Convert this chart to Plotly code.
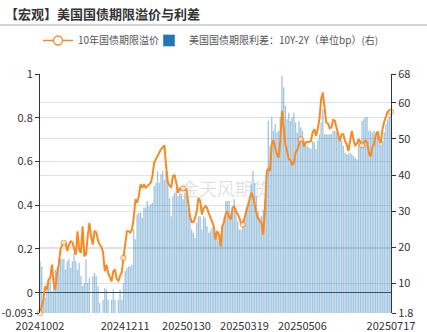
import pandas as pd
import plotly.graph_objects as go

# ---- data ----
dates = [d.strftime("%Y%m%d") for d in pd.bdate_range("2024-10-02", "2025-07-17")]

term_premium = [
    -0.093, -0.055, -0.032, 0.029, 0.014, 0.060, 0.067, 0.128, 0.044, 0.014,
    0.090, 0.128, 0.197, 0.216, 0.228, 0.228, 0.190, 0.220, 0.235, 0.231,
    0.197, 0.174, 0.281, 0.197, 0.182, 0.304, 0.167, 0.174, 0.258, 0.319,
    0.258, 0.220, 0.281, 0.277, 0.240, 0.220, 0.210, 0.185, 0.098, 0.128,
    0.090, 0.072, 0.052, 0.098, 0.106, 0.063, 0.052, 0.078, 0.093, 0.159,
    0.228, 0.281,
    0.281, 0.274, 0.289, 0.342, 0.427, 0.411, 0.442, 0.495, 0.480, 0.495,
    0.480, 0.488, 0.495, 0.503, 0.534, 0.595, 0.610, 0.626, 0.641, 0.656,
    0.664, 0.674, 0.580, 0.503, 0.491, 0.480, 0.534, 0.537, 0.503, 0.457,
    0.476, 0.469, 0.476, 0.469, 0.472, 0.411, 0.350, 0.323, 0.323, 0.342,
    0.373, 0.434, 0.419, 0.358, 0.384, 0.396, 0.388, 0.365, 0.342, 0.319,
    0.304,
    0.243, 0.281, 0.266, 0.212, 0.304, 0.323, 0.361, 0.368, 0.345, 0.335,
    0.388, 0.393, 0.370, 0.361, 0.342, 0.317, 0.312, 0.342, 0.373, 0.403,
    0.423, 0.457, 0.442, 0.396, 0.365, 0.339, 0.327, 0.319, 0.266, 0.380,
    0.549, 0.567, 0.557, 0.679, 0.697, 0.656, 0.633, 0.618, 0.687, 0.832,
    0.755, 0.679, 0.648, 0.610, 0.607, 0.583, 0.595, 0.641, 0.653, 0.674,
    0.702, 0.699,
    0.668, 0.687, 0.687, 0.690, 0.694, 0.732, 0.748, 0.717, 0.748, 0.794,
    0.885, 0.915, 0.848, 0.778, 0.774, 0.751, 0.755, 0.790, 0.786, 0.755,
    0.717, 0.694, 0.725, 0.725, 0.694, 0.679, 0.648, 0.694, 0.740, 0.699,
    0.671, 0.682, 0.702, 0.690, 0.674, 0.687, 0.697, 0.687, 0.641, 0.622,
    0.665, 0.679, 0.717, 0.737, 0.702, 0.684, 0.748, 0.781, 0.801, 0.827,
    0.835, 0.827,
]

spread_bp = [
    16.1, 14.7, 5.5, 6.0, 8.3, 10.1, 11.0, 7.8, 11.5, 13.8,
    12.9, 16.8, 16.8, 16.8, 16.8, 13.8, 16.1, 16.8, 14.3, 16.1,
    18.5, 16.1, 13.8, 15.7, 12.0, 9.2, 10.1, 16.6, 10.1, 11.5,
    1.5, 12.0, 12.9, 12.0, 9.2, 4.6, 1.0, 5.5, 8.7, 8.3,
    5.5, 0.8, 5.5, 8.3, 5.5, 1.2, 5.5, 8.3, 5.5, 10.1,
    13.4, 14.3,
    14.7, 14.7, 15.2, 24.9, 22.2, 29.1, 29.6, 29.6, 28.2, 31.0,
    31.0, 32.8, 31.4, 31.9, 32.3, 37.0, 37.9, 41.1, 37.9, 40.2,
    41.1, 38.8, 41.1, 38.8, 33.7, 28.6, 34.2, 35.1, 36.5, 34.2,
    35.1, 34.7, 33.3, 35.1, 34.2, 30.5, 28.6, 24.9, 24.0, 22.6,
    26.8, 28.6, 28.6, 24.9, 28.6, 28.2, 25.9, 24.0, 24.5, 25.4,
    24.5,
    24.0, 22.6, 21.7, 21.2, 25.9, 28.2, 32.8, 32.8, 32.8, 29.1,
    31.4, 33.3, 31.0, 27.2, 24.9, 24.9, 27.7, 28.6, 31.0, 31.9,
    34.2, 37.4, 41.1, 37.9, 34.2, 30.0, 28.2, 28.6, 30.5, 33.3,
    41.6, 55.0, 48.1, 56.0, 52.3, 54.1, 51.8, 52.3, 56.0, 67.5,
    64.3, 59.2, 55.5, 57.3, 55.0, 56.0, 57.3, 54.6, 51.8, 55.0,
    53.2, 52.3,
    49.8, 48.1, 48.1, 47.6, 47.2, 49.5, 49.0, 47.2, 49.5, 51.3,
    54.6, 58.3, 51.3, 51.3, 51.3, 51.3, 51.3, 52.2, 52.2, 51.8,
    50.9, 49.9, 49.5, 48.1, 46.2, 45.8, 45.8, 46.2, 45.8, 45.3,
    44.8, 44.4, 49.5, 49.5, 55.0, 55.5, 56.0, 56.0, 52.3, 52.3,
    51.8, 52.3, 51.8, 50.9, 52.3, 48.5, 49.5, 51.8, 54.1, 55.5,
    56.4, 57.3,
]

marker_idx = [0, 14, 49, 84, 119, 153, 189, 206]
x_ticks = ["20241002", "20241211", "20250130", "20250319", "20250506", "20250717"]
left_ticks = [-0.093, 0, 0.2, 0.4, 0.6, 0.8, 1]
right_ticks = [1.8, 10, 20, 30, 40, 50, 60, 68]

title_text = "<b>【宏观】美国国债期限溢价与利差</b>"
line_name = "10年国债期限溢价"
bar_name = "美国国债期限利差：10Y-2Y（单位bp）(右)"
watermark = "金天风期货"

ORANGE = "#F98A22"
BLUE = "#2178B5"
FONT = "Noto Sans CJK SC, Noto Sans, sans-serif"

msize = [5 if i in marker_idx else 0 for i in range(len(dates))]
mlw = [1.1 if i in marker_idx else 0 for i in range(len(dates))]

fig = go.Figure()
fig.add_trace(go.Bar(
    x=dates, y=spread_bp, yaxis="y", name=bar_name, showlegend=False,
    marker=dict(color="rgba(33,120,181,0.42)", line=dict(width=0)),
))
fig.add_trace(go.Scatter(
    x=dates, y=term_premium, yaxis="y2", name=line_name, mode="lines+markers",
    line=dict(color=ORANGE, width=2), showlegend=False,
    marker=dict(size=msize, color="white", line=dict(color=ORANGE, width=mlw)),
    cliponaxis=False,
))
# legend-only entries
fig.add_trace(go.Scatter(
    x=[None], y=[None], yaxis="y2", name=line_name, mode="lines+markers",
    line=dict(color=ORANGE, width=1.5), legend="legend",
    marker=dict(size=9, color="white", line=dict(color=ORANGE, width=1.3)),
))
fig.add_trace(go.Bar(
    x=[None], y=[None], yaxis="y", name=bar_name, legend="legend2",
    marker=dict(color=BLUE),
))

leg_common = dict(orientation="h", xref="container", yref="container",
                  xanchor="left", y=1 - 26 / 332, yanchor="top",
                  font=dict(size=10, color="#555"), itemwidth=30,
                  bgcolor="rgba(0,0,0,0)")

fig.update_layout(
    width=427, height=332,
    margin=dict(l=40, r=36, t=74, b=19, autoexpand=False),
    paper_bgcolor="white", plot_bgcolor="white",
    font=dict(family=FONT, size=11, color="#333"),
    bargap=0.22,
    title=dict(text=title_text, x=0.012, xanchor="left", xref="container",
               y=1 - 14 / 332, yref="container", yanchor="middle",
               font=dict(size=13, color="#333", family=FONT)),
    legend=dict(x=38 / 427, **leg_common),
    legend2=dict(x=149 / 427, **leg_common),
    xaxis=dict(type="category", range=[0, len(dates) - 1], automargin=False,
               tickmode="array", tickvals=x_ticks, ticktext=x_ticks,
               showgrid=False, showline=False, ticks="outside", ticklen=3,
               tickcolor="rgba(0,0,0,0)", tickangle=0,
               tickfont=dict(size=11, color="#333"), zeroline=False),
    yaxis=dict(side="right", range=[1.8, 68], tickmode="array", tickvals=right_ticks,
               ticktext=[str(v) for v in right_ticks], automargin=False,
               showgrid=True, gridcolor="#e2e2e2", gridwidth=1,
               showline=True, linecolor="#333", linewidth=1,
               ticks="outside", ticklen=4, tickcolor="#333",
               zeroline=False, tickfont=dict(size=11, color="#333")),
    yaxis2=dict(side="left", overlaying="y", range=[-0.093, 1], tickmode="array",
                tickvals=left_ticks, ticktext=[str(v) for v in left_ticks],
                automargin=False,
                showgrid=True, gridcolor="#e2e2e2", gridwidth=1,
                showline=True, linecolor="#333", linewidth=1,
                ticks="outside", ticklen=4, tickcolor="#333",
                zeroline=True, zerolinecolor="#3b4652", zerolinewidth=1,
                tickfont=dict(size=11, color="#333")),
    shapes=[dict(type="line", xref="paper", yref="paper",
                 x0=-40 / 351, x1=387 / 351, y0=(313 - 25) / 239, y1=(313 - 25) / 239,
                 line=dict(color="#aaaaaa", width=1))],
    annotations=[dict(text=watermark, xref="paper", yref="paper",
                      x=(226 - 40) / 351, y=(313 - 188) / 239, showarrow=False,
                      font=dict(size=18, color="rgba(170,170,170,0.35)", family=FONT))],
)

fig.write_html("out.html")
